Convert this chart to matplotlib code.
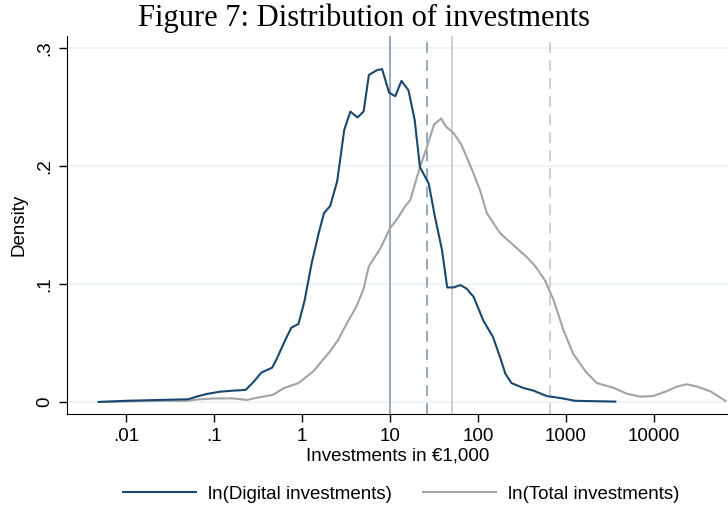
import matplotlib
matplotlib.use("Agg")
import matplotlib.pyplot as plt
import numpy as np

# log10 of investments (in EUR 1,000) and kernel density
digital_log = [-2.31, -1.99, -1.61, -1.29, -1.20, -1.08, -0.93, -0.78, -0.64, -0.55,
               -0.46, -0.34, -0.29, -0.19, -0.12, -0.04, 0.03, 0.11, 0.19, 0.25,
               0.32, 0.40, 0.48, 0.55, 0.63, 0.70, 0.76, 0.85, 0.91, 0.99,
               1.06, 1.13, 1.21, 1.28, 1.34, 1.44, 1.51, 1.59, 1.65, 1.72,
               1.80, 1.87, 1.95, 2.06, 2.17, 2.25, 2.31, 2.38, 2.51, 2.63,
               2.78, 2.93, 3.10, 3.56]
digital_dens = [0.000, 0.001, 0.0017, 0.0023, 0.0045, 0.0068, 0.0087, 0.0096, 0.0102, 0.017,
                0.025, 0.029, 0.036, 0.0525, 0.063, 0.066, 0.086, 0.1175, 0.143, 0.160,
                0.166, 0.187, 0.2305, 0.246, 0.241, 0.246, 0.277, 0.281, 0.282, 0.262,
                0.259, 0.272, 0.264, 0.239, 0.199, 0.185, 0.157, 0.129, 0.097, 0.097,
                0.099, 0.096, 0.089, 0.069, 0.055, 0.038, 0.024, 0.016, 0.012, 0.0096,
                0.005, 0.0034, 0.001, 0.0003]

total_log = [-2.31, -1.61, -1.31, -1.16, -0.97, -0.78, -0.63, -0.48, -0.33, -0.21,
             -0.04, 0.13, 0.32, 0.41, 0.51, 0.62, 0.70, 0.76, 0.89, 1.00,
             1.09, 1.17, 1.23, 1.34, 1.42, 1.50, 1.58, 1.64, 1.72, 1.81,
             1.93, 2.02, 2.10, 2.25, 2.40, 2.55, 2.65, 2.76, 2.86, 2.97,
             3.08, 3.22, 3.35, 3.54, 3.69, 3.84, 3.99, 4.14, 4.26, 4.37,
             4.49, 4.64, 4.81]
total_dens = [0.000, 0.001, 0.001, 0.0023, 0.003, 0.003, 0.0017, 0.004, 0.006, 0.0116,
              0.016, 0.026, 0.043, 0.0525, 0.0667, 0.081, 0.096, 0.115, 0.130, 0.147,
              0.156, 0.1655, 0.171, 0.199, 0.216, 0.235, 0.240, 0.233, 0.228, 0.218,
              0.197, 0.180, 0.160, 0.143, 0.133, 0.123, 0.115, 0.103, 0.086, 0.061,
              0.041, 0.026, 0.016, 0.012, 0.007, 0.0045, 0.005, 0.009, 0.013, 0.015,
              0.013, 0.009, 0.001]

# medians (solid) and means (dashed), EUR 1,000
digital_median, digital_mean = 10, 26
total_median, total_mean = 50, 650

xticks = [0.01, 0.1, 1, 10, 100, 1000, 10000]
xticklabels = [".01", ".1", "1", "10", "100", "1000", "10000"]
yticks = [0, 0.1, 0.2, 0.3]
yticklabels = ["0", ".1", ".2", ".3"]

navy = "#1a476f"
gray = "#a3a3a3"
fs = 13.5

plt.rcParams["font.family"] = ["Liberation Sans", "DejaVu Sans"]

fig = plt.figure(figsize=(7.28, 5.12), dpi=100)
ax = fig.add_axes([0.092, 0.1914, 0.908, 0.7383])

for y in yticks:
    ax.axhline(y, color="#eaf2f3", lw=1.2, zorder=0)

ax.axvline(digital_median, color="#8ca1b8", lw=1.3, zorder=1)
ax.axvline(digital_mean, color="#8ca1b8", lw=1.3, ls=(0, (6, 4)), zorder=1)
ax.axvline(total_median, color="#cbcbcb", lw=1.3, zorder=1)
ax.axvline(total_mean, color="#cbcbcb", lw=1.3, ls=(0, (6, 4)), zorder=1)

ax.plot(10 ** np.array(digital_log), digital_dens, color=navy, lw=1.5,
        label="ln(Digital investments)", zorder=3)
ax.plot(10 ** np.array(total_log), total_dens, color=gray, lw=1.5,
        label="ln(Total investments)", zorder=2)

ax.set_xscale("log")
ax.set_xlim(10 ** -2.67, 10 ** 4.84)
ax.set_ylim(-0.0102, 0.310)
ax.set_xticks(xticks)
ax.set_xticklabels(xticklabels)
ax.minorticks_off()
ax.set_yticks(yticks)
ax.set_yticklabels(yticklabels, rotation=90, va="center")
ax.tick_params(axis="both", direction="out", length=6, width=1, labelsize=fs, pad=4)

for side in ["top", "right"]:
    ax.spines[side].set_visible(False)

ax.set_xlabel("Investments in €1,000", fontsize=fs, labelpad=2)
ax.set_ylabel("Density", fontsize=fs, labelpad=6)

fig.text(0.5, 0.993, "Figure 7: Distribution of investments", family="Liberation Serif",
         fontsize=22, ha="center", va="top")

fig.legend(loc="center", bbox_to_anchor=(0.551, 0.035), ncol=2, frameon=False,
           fontsize=fs, handlelength=3.85, columnspacing=1.7, handletextpad=0.64)

plt.savefig("out.png", dpi=100)
